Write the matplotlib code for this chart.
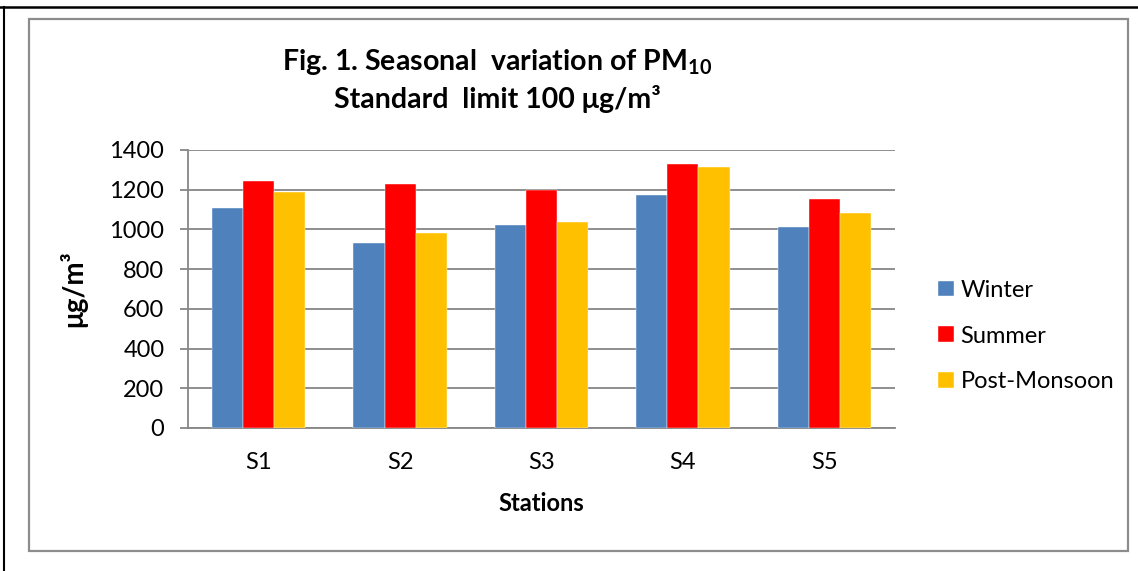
#!/usr/bin/env python3

import numpy as np
import matplotlib as mpl
mpl.use('Agg')
import matplotlib.pyplot as plt
from matplotlib.patches import Rectangle
from matplotlib.lines import Line2D

#-----------------------------------------------------------------------------#
# data

stations = ['S1', 'S2', 'S3', 'S4', 'S5']
seasons = ['Winter', 'Summer', 'Post-Monsoon']
winter = [1110, 933, 1024, 1175, 1011]
summer = [1245, 1229, 1199, 1330, 1153]
post_monsoon = [1190, 984, 1037, 1314, 1083]
colors = ['#4F81BD', '#FF0000', '#FFC000']

#-----------------------------------------------------------------------------#
# style

plt.rcParams['font.family'] = ['Lato', 'DejaVu Sans']
plt.rcParams['mathtext.fontset'] = 'custom'
plt.rcParams['mathtext.rm'] = 'Lato'
plt.rcParams['mathtext.bf'] = 'Lato:bold'
plt.rcParams['mathtext.default'] = 'bf'

W, H = 1138, 571
fig = plt.figure(figsize=(W / 100, H / 100), dpi=100)
fig.patch.set_facecolor('white')

def fx(px):
    return px / W

def fy(py):
    return 1 - py / H

# outer frame lines
fig.add_artist(Line2D([fx(0), fx(W)], [fy(7), fy(7)], color='black', lw=1.8))
fig.add_artist(Line2D([fx(4), fx(4)], [fy(7), fy(H)], color='black', lw=1.5))
fig.add_artist(Rectangle((fx(29), fy(551)), fx(1128) - fx(29), fy(19) - fy(551),
                         transform=fig.transFigure, fill=False,
                         edgecolor='#8c8c8c', lw=1.6))

#-----------------------------------------------------------------------------#
# bars

ax = fig.add_axes([fx(188), fy(428), fx(895) - fx(188), fy(150) - fy(428)])
x = np.arange(len(stations))
width = 0.22
series = [winter, summer, post_monsoon]
for i, (vals, c, lab) in enumerate(zip(series, colors, seasons)):
    ax.bar(x + (i - 1) * width, vals, width, color=c, label=lab, zorder=3,
           edgecolor='white', linewidth=0.3)

ax.set_xlim(-0.5, len(stations) - 0.5)
ax.set_ylim(0, 1400)
ax.set_yticks(range(0, 1401, 200))
ax.set_xticks(x)
ax.set_xticklabels(stations)
ax.grid(axis='y', color='#868686', lw=1.3, zorder=0)
for s in ['top', 'right']:
    ax.spines[s].set_visible(False)
for s in ['left', 'bottom']:
    ax.spines[s].set_color('#868686')
    ax.spines[s].set_linewidth(1.3)
ax.tick_params(axis='y', length=6, width=1.3, color='#868686', labelsize=17, pad=11)
ax.tick_params(axis='x', length=0, labelsize=17, pad=17)

ax.set_xlabel('Stations', fontsize=17, fontweight='bold', labelpad=14)
ax.set_ylabel('μg/m³', fontsize=20, fontweight='bold', labelpad=16)

fig.text(fx(497), fy(70), 'Fig. 1. Seasonal  variation of PM$_{10}$',
         ha='center', va='baseline', fontsize=20.5, fontweight='bold')
fig.text(fx(497), fy(108), 'Standard  limit 100 μg/m³', ha='center',
         va='baseline', fontsize=20.5, fontweight='bold')

fig.legend(loc='center left', bbox_to_anchor=(fx(917), fy(336)), frameon=False,
           fontsize=17, handlelength=0.65, handleheight=0.65, handletextpad=0.3,
           labelspacing=1.05)

plt.savefig('out.png', dpi=100)
